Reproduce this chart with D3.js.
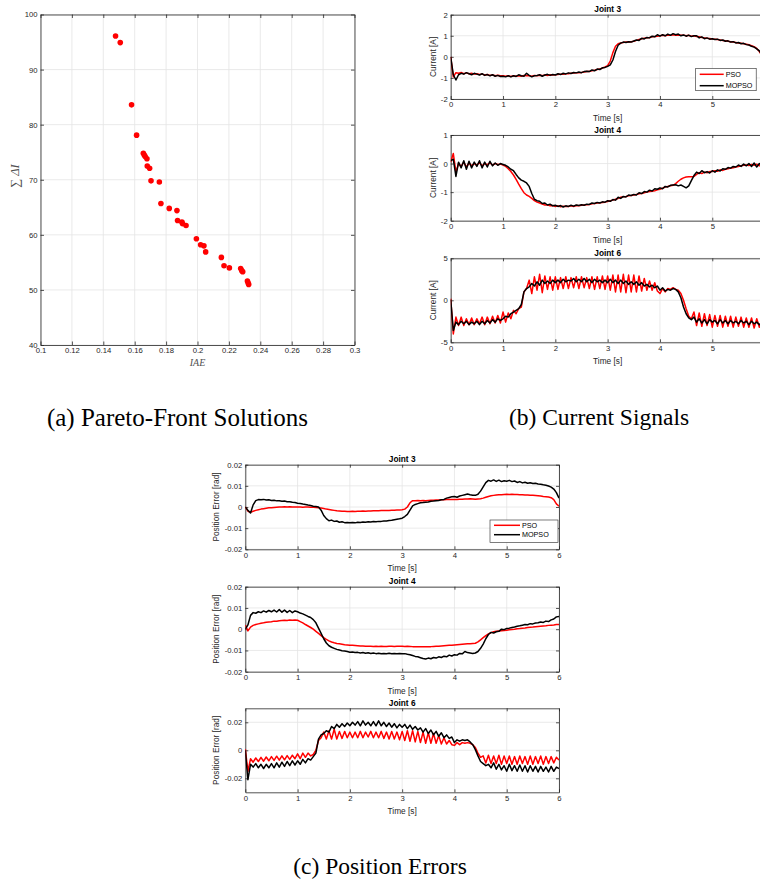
<!DOCTYPE html>
<html>
<head>
<meta charset="utf-8">
<script src="https://cdn.jsdelivr.net/npm/d3@7"></script>
<style>
body { margin: 0; background: #fff; }
svg { display: block; }
</style>
</head>
<body>
<div id="fig"></div>
<script>
var width = 760
var height = 879

// (a) Pareto front
var paretoIAE = [0.1478, 0.1508, 0.1580, 0.1612, 0.1655, 0.1661, 0.1667, 0.1678, 0.1680, 0.1695,
    0.1704, 0.1757, 0.1767, 0.1820, 0.1869, 0.1873, 0.1901, 0.1905, 0.1927, 0.1993,
    0.2020, 0.2041, 0.2052, 0.2152, 0.2169, 0.2203, 0.2275, 0.2282, 0.2288, 0.2318, 0.2322, 0.2326];
var paretoDI = [96.1, 94.9, 83.6, 78.1, 74.8, 74.5, 74.2, 73.8, 72.5, 72.1,
    69.8, 69.6, 65.7, 64.8, 64.4, 62.6, 62.3, 62.0, 61.7, 59.3,
    58.2, 58.0, 56.9, 55.9, 54.4, 54.0, 53.9, 53.5, 53.3, 51.6, 51.3, 51.0];
var paretoXTicks = [0.1, 0.12, 0.14, 0.16, 0.18, 0.2, 0.22, 0.24, 0.26, 0.28, 0.3];
var paretoYTicks = [40, 50, 60, 70, 80, 90, 100];

var seriesNames = ['PSO', 'MOPSO'];
var seriesColors = ['#ff0000', '#000000'];
var timeTicks = [0, 1, 2, 3, 4, 5, 6];

// (b) current signals, sampled every 0.05 s
var curJ3PSO = [0, -0.95, -0.75, -0.78, -0.74, -0.8, -0.76, -0.8, -0.78, -0.82,
    -0.8, -0.84, -0.82, -0.86, -0.84, -0.88, -0.86, -0.9, -0.87, -0.9,
    -0.9, -0.92, -0.9, -0.93, -0.9, -0.92, -0.9, -0.92, -0.88, -0.9,
    -0.9, -0.92, -0.88, -0.9, -0.87, -0.89, -0.86, -0.88, -0.85, -0.86,
    -0.85, -0.84, -0.82, -0.83, -0.8, -0.8, -0.78, -0.77, -0.76, -0.75,
    -0.74, -0.72, -0.7, -0.69, -0.66, -0.64, -0.6, -0.58, -0.53, -0.48,
    -0.42, -0.2, 0.2, 0.5, 0.62, 0.66, 0.68, 0.7, 0.7, 0.72,
    0.74, 0.78, 0.82, 0.86, 0.88, 0.9, 0.92, 0.95, 0.96, 0.98,
    1.0, 1.02, 1.0, 1.04, 1.02, 1.05, 1.03, 1.04, 1.02, 1.03,
    1.0, 1.02, 0.98, 1.0, 0.96, 0.95, 0.92, 0.9, 0.88, 0.87,
    0.85, 0.84, 0.82, 0.8, 0.78, 0.76, 0.74, 0.72, 0.7, 0.68,
    0.66, 0.64, 0.62, 0.6, 0.57, 0.53, 0.48, 0.4, 0.25, 0.05,
    -0.5];
var curJ3MOPSO = [0, -0.85, -1.1, -0.85, -0.78, -0.82, -0.75, -0.8, -0.85, -0.78,
    -0.82, -0.86, -0.8, -0.88, -0.84, -0.9, -0.85, -0.92, -0.88, -0.93,
    -0.92, -0.95, -0.9, -0.95, -0.9, -0.93, -0.85, -0.9, -0.92, -0.78,
    -0.88, -0.95, -0.9, -0.88, -0.85, -0.92, -0.86, -0.83, -0.88, -0.84,
    -0.86, -0.8, -0.84, -0.78, -0.81, -0.76, -0.79, -0.74, -0.76, -0.72,
    -0.75, -0.7, -0.68, -0.7, -0.62, -0.66, -0.58, -0.6, -0.52, -0.5,
    -0.45, -0.38, -0.15, 0.25, 0.55, 0.65, 0.7, 0.68, 0.72, 0.7,
    0.75, 0.8, 0.78, 0.88, 0.85, 0.92, 0.9, 0.98, 0.95, 1.05,
    0.98, 1.05, 1.0, 1.08, 1.02, 1.1, 1.05, 1.08, 1.0, 1.04,
    0.98, 1.03, 0.96, 1.0, 1.0, 0.9, 0.95, 0.86, 0.9, 0.84,
    0.86, 0.82, 0.84, 0.78, 0.8, 0.74, 0.76, 0.7, 0.72, 0.66,
    0.68, 0.62, 0.64, 0.58, 0.56, 0.5, 0.46, 0.38, 0.28, 0.1,
    -0.2];
var curJ4PSO = [0.05, 0.35, -0.3, 0.0, -0.1, 0.05, -0.12, 0.02, -0.08, 0.0,
    -0.05, 0.03, -0.08, 0.0, -0.04, 0.02, -0.05, 0.0, -0.03, -0.02,
    -0.05, -0.1, -0.18, -0.28, -0.4, -0.55, -0.72, -0.88, -1.02, -1.1,
    -1.15, -1.22, -1.3, -1.35, -1.38, -1.42, -1.45, -1.44, -1.48, -1.47,
    -1.5, -1.48, -1.51, -1.49, -1.5, -1.5, -1.48, -1.5, -1.47, -1.48,
    -1.46, -1.45, -1.44, -1.43, -1.41, -1.4, -1.38, -1.37, -1.36, -1.35,
    -1.33, -1.3, -1.28, -1.25, -1.22, -1.18, -1.16, -1.15, -1.13, -1.12,
    -1.1, -1.08, -1.06, -1.05, -1.02, -1.0, -0.98, -0.97, -0.95, -0.92,
    -0.9, -0.86, -0.82, -0.8, -0.78, -0.76, -0.7, -0.62, -0.55, -0.5,
    -0.47, -0.46, -0.46, -0.45, -0.38, -0.32, -0.35, -0.3, -0.32, -0.28,
    -0.28, -0.25, -0.27, -0.22, -0.24, -0.2, -0.18, -0.16, -0.15, -0.12,
    -0.1, -0.08, -0.06, -0.05, -0.07, -0.03, -0.06, -0.02, -0.08, -0.05,
    -0.1];
var curJ4MOPSO = [0.1, 0.15, -0.45, 0.05, -0.15, 0.1, -0.2, 0.08, -0.15, 0.05,
    -0.1, 0.1, -0.15, 0.05, -0.12, 0.08, -0.08, 0.02, -0.06, 0.0,
    -0.03, -0.06, -0.12, -0.2, -0.25, -0.38, -0.5, -0.58, -0.62, -0.68,
    -0.8, -1.05, -1.25, -1.3, -1.32, -1.4, -1.38, -1.45, -1.42, -1.48,
    -1.46, -1.5, -1.47, -1.52, -1.48, -1.5, -1.46, -1.49, -1.45, -1.47,
    -1.44, -1.46, -1.42, -1.43, -1.38, -1.4, -1.36, -1.38, -1.34, -1.35,
    -1.3, -1.32, -1.26, -1.28, -1.18, -1.22, -1.15, -1.17, -1.1, -1.12,
    -1.08, -1.1, -1.02, -1.05, -0.98, -1.0, -0.93, -0.96, -0.88, -0.9,
    -0.85, -0.88, -0.8, -0.82, -0.76, -0.75, -0.74, -0.78, -0.75, -0.8,
    -0.85, -0.78, -0.6, -0.42, -0.3, -0.35, -0.25, -0.32, -0.28, -0.33,
    -0.25, -0.3, -0.22, -0.26, -0.18, -0.2, -0.14, -0.16, -0.1, -0.12,
    -0.05, -0.1, -0.02, -0.08, 0.0, -0.1, 0.02, -0.12, 0.0, -0.08,
    -0.1];
var curJ6PSO = [0.2, -4.0, -2.0, -3.0, -2.0, -3.0, -2.2, -2.9, -2.1, -2.9,
    -2.2, -2.8, -2.0, -2.9, -2.0, -2.8, -1.9, -2.7, -1.8, -2.7,
    -1.4, -2.6, -1.5, -2.2, -1.2, -1.6, -1.0, -0.8, 1.0, 1.4,
    2.4, 0.8, 2.8, 1.2, 3.1, 0.9, 2.9, 1.3, 2.8, 1.2,
    2.8, 1.3, 2.7, 1.4, 2.8, 1.4, 2.7, 1.5, 2.8, 1.4,
    2.8, 1.5, 2.7, 1.4, 2.8, 1.3, 2.8, 1.4, 2.9, 1.3,
    2.9, 1.2, 3.0, 1.0, 3.0, 1.0, 3.1, 0.9, 3.0, 1.0,
    3.0, 1.0, 2.9, 1.1, 2.6, 1.2, 2.3, 1.2, 2.1, 1.1,
    0.8, 1.4, 1.0, 1.4, 1.3, 1.5, 1.3, 1.2, 0.8, 0.0,
    -1.0, -1.9, -2.2, -1.4, -3.0, -1.5, -3.1, -1.6, -3.0, -1.7,
    -3.2, -1.8, -3.1, -1.8, -3.2, -1.9, -3.1, -1.9, -3.2, -2.0,
    -3.1, -2.0, -3.2, -2.1, -3.2, -2.1, -3.3, -2.2, -3.2, -2.3,
    -2.8];
var curJ6MOPSO = [0.1, -3.6, -2.6, -2.9, -2.5, -2.8, -2.5, -2.9, -2.6, -2.8,
    -2.5, -2.9, -2.5, -2.8, -2.4, -2.7, -2.3, -2.6, -2.2, -2.4,
    -2.2, -1.9, -2.0, -1.6, -1.4, -1.2, -1.0, -0.5, 1.0, 1.4,
    1.6, 2.0, 1.7, 2.2, 1.8, 2.4, 2.0, 2.3, 2.0, 2.4,
    2.1, 2.4, 2.1, 2.5, 2.2, 2.4, 2.3, 2.6, 2.2, 2.5,
    2.2, 2.6, 2.2, 2.5, 2.1, 2.5, 2.2, 2.4, 2.1, 2.4,
    2.1, 2.5, 2.1, 2.4, 2.0, 2.4, 2.0, 2.3, 1.9, 2.2,
    1.9, 2.2, 1.8, 2.1, 1.7, 1.9, 1.6, 1.8, 1.5, 1.7,
    1.2, 1.5, 1.1, 1.3, 1.2, 1.4, 1.3, 1.0, 0.3, -0.8,
    -1.6, -2.1, -2.3, -2.0, -2.6, -2.2, -2.7, -2.3, -2.8, -2.3,
    -2.6, -2.4, -2.8, -2.3, -2.7, -2.4, -2.8, -2.4, -2.7, -2.5,
    -2.8, -2.4, -2.7, -2.5, -2.9, -2.5, -2.8, -2.6, -2.9, -2.7,
    -2.8];

// (c) position errors, sampled every 0.05 s
var errJ3PSO = [0.0, -0.002, -0.0025, -0.002, -0.0016, -0.0013, -0.001, -0.0008, -0.0006, -0.0004,
    -0.0003, -0.0002, -0.0001, 0.0, 0.0, 0.0001, 0.0, 0.0001, 0.0, 0.0,
    0.0, 0.0, -0.0001, 0.0, 0.0, -0.0001, -0.0001, -0.0002, -0.0003, -0.0005,
    -0.0007, -0.001, -0.0012, -0.0014, -0.0016, -0.0018, -0.0019, -0.002, -0.002, -0.0021,
    -0.0021, -0.002, -0.0021, -0.002, -0.002, -0.0019, -0.002, -0.0019, -0.0019, -0.0018,
    -0.0018, -0.0018, -0.0017, -0.0017, -0.0016, -0.0016, -0.0015, -0.0015, -0.0014, -0.0014,
    -0.0013, -0.001, 0.0, 0.002, 0.003, 0.003, 0.0031, 0.003, 0.0031, 0.003,
    0.0031, 0.0032, 0.0032, 0.0033, 0.0033, 0.0034, 0.0034, 0.0035, 0.0035, 0.0035,
    0.0036, 0.0036, 0.0037, 0.0037, 0.0038, 0.0038, 0.0039, 0.0038, 0.0037, 0.0038,
    0.0039, 0.0042, 0.0046, 0.005, 0.0053, 0.0055, 0.0057, 0.0058, 0.0058, 0.0059,
    0.006, 0.0059, 0.006, 0.0059, 0.0059, 0.0058, 0.0058, 0.0057, 0.0057, 0.0056,
    0.0055, 0.0054, 0.0053, 0.0052, 0.005, 0.0049, 0.0047, 0.0044, 0.0035, 0.0015,
    0.0004];
var errJ3MOPSO = [0.0, -0.0015, -0.0028, 0.001, 0.003, 0.0035, 0.0034, 0.0036, 0.0033, 0.0034,
    0.0031, 0.0032, 0.0029, 0.003, 0.0027, 0.0028, 0.0025, 0.0025, 0.0022, 0.0021,
    0.0018, 0.0017, 0.0014, 0.0012, 0.0009, 0.0007, 0.0004, 0.0002, 0.0, -0.0015,
    -0.004, -0.0055, -0.0065, -0.0062, -0.0068, -0.0066, -0.0072, -0.007, -0.0074, -0.0073,
    -0.0075, -0.0073, -0.0075, -0.0072, -0.0073, -0.0071, -0.0072, -0.007, -0.0071, -0.0069,
    -0.007, -0.0068, -0.0068, -0.0066, -0.0066, -0.0064, -0.0063, -0.006, -0.0058, -0.0056,
    -0.0053, -0.0045, -0.0035, -0.0015, 0.0005, 0.0012, 0.0016, 0.002, 0.0021, 0.0023,
    0.0024, 0.0027, 0.0028, 0.003, 0.0031, 0.0034, 0.0036, 0.0042, 0.0045, 0.0048,
    0.005, 0.0046, 0.0052, 0.0055, 0.0058, 0.0061, 0.0058, 0.0056, 0.0055, 0.006,
    0.0075, 0.0095, 0.0115, 0.0126, 0.0122, 0.0128, 0.0121, 0.0127, 0.012, 0.0124,
    0.0122, 0.0126, 0.012, 0.0123, 0.0116, 0.012, 0.0114, 0.0117, 0.0112, 0.0115,
    0.0111, 0.0112, 0.0109, 0.0108, 0.0105, 0.0103, 0.0099, 0.0094, 0.0085, 0.0068,
    0.0042];
var errJ4PSO = [0.002, -0.0008, 0.001, 0.0018, 0.0022, 0.0025, 0.0028, 0.003, 0.0033, 0.0034,
    0.0035, 0.0038, 0.0037, 0.004, 0.0041, 0.0042, 0.0041, 0.0043, 0.0042, 0.0043,
    0.0042, 0.0036, 0.003, 0.0022, 0.0015, 0.0008, 0.0, -0.001, -0.002, -0.003,
    -0.004, -0.0048, -0.0055, -0.006, -0.0064, -0.0067, -0.0069, -0.0071, -0.0073, -0.0074,
    -0.0075, -0.0076, -0.0077, -0.0078, -0.0079, -0.0079, -0.008, -0.008, -0.008, -0.0081,
    -0.008, -0.0081, -0.008, -0.0081, -0.0081, -0.008, -0.008, -0.0081, -0.008, -0.008,
    -0.008, -0.0081, -0.008, -0.0081, -0.0082, -0.0082, -0.0083, -0.0082, -0.0083, -0.0083,
    -0.0082, -0.0082, -0.0081, -0.008, -0.008, -0.0079, -0.0078, -0.0077, -0.0076, -0.0075,
    -0.0074, -0.0073, -0.0072, -0.0071, -0.007, -0.0069, -0.0068, -0.0067, -0.0066, -0.006,
    -0.005, -0.004, -0.003, -0.0022, -0.0016, -0.0012, -0.001, -0.0008, -0.0007, -0.0006,
    -0.0005, -0.0003, -0.0001, 0.0, 0.0002, 0.0003, 0.0005, 0.0006, 0.0008, 0.0009,
    0.001, 0.0012, 0.0013, 0.0014, 0.0015, 0.0016, 0.0018, 0.0019, 0.002, 0.0022,
    0.0022];
var errJ4MOPSO = [0.0, 0.002, 0.0065, 0.0078, 0.0075, 0.0082, 0.0078, 0.0086, 0.008, 0.0088,
    0.0082, 0.009, 0.0081, 0.0092, 0.008, 0.009, 0.0079, 0.0088, 0.0078, 0.0086,
    0.0082, 0.0076, 0.0072, 0.0066, 0.006, 0.0055, 0.0045, 0.003, 0.0005, -0.002,
    -0.0045, -0.0065, -0.0078, -0.0085, -0.009, -0.0095, -0.0098, -0.0101, -0.0103, -0.0105,
    -0.0108, -0.0107, -0.011, -0.0109, -0.0112, -0.011, -0.0113, -0.0111, -0.0114, -0.0112,
    -0.0115, -0.0113, -0.0116, -0.0114, -0.0115, -0.0113, -0.0116, -0.0114, -0.0115, -0.0114,
    -0.0116, -0.0115, -0.0118, -0.012, -0.0124, -0.0128, -0.013, -0.0134, -0.0138, -0.014,
    -0.0136, -0.0139, -0.0133, -0.0136, -0.013, -0.0133, -0.0127, -0.013, -0.0122, -0.0126,
    -0.012, -0.0122, -0.0114, -0.0116, -0.0105, -0.011, -0.0112, -0.0114, -0.0112, -0.0105,
    -0.009, -0.007, -0.0045, -0.0025, -0.0015, -0.0018, -0.0012, -0.001, 0.0, -0.0002,
    0.0003, 0.0005, 0.0008, 0.001, 0.0014, 0.0016, 0.0019, 0.0022, 0.0021, 0.0026,
    0.0025, 0.0029, 0.003, 0.0034, 0.0032, 0.0038, 0.0036, 0.0044, 0.0048, 0.0058,
    0.006];
var errJ6PSO = [0.001, -0.015, -0.006, -0.0085, -0.0055, -0.008, -0.005, -0.0078, -0.0048, -0.0075,
    -0.0045, -0.0072, -0.0042, -0.007, -0.004, -0.0068, -0.0038, -0.0065, -0.0035, -0.006,
    -0.0025, -0.006, -0.002, -0.005, -0.002, -0.004, -0.003, 0.0, 0.007, 0.009,
    0.013, 0.008, 0.014, 0.008, 0.015, 0.008, 0.0135, 0.0085, 0.0135, 0.009,
    0.013, 0.009, 0.013, 0.009, 0.0135, 0.009, 0.013, 0.0095, 0.0135, 0.009,
    0.013, 0.009, 0.0135, 0.0085, 0.013, 0.008, 0.0135, 0.008, 0.013, 0.0075,
    0.0135, 0.007, 0.014, 0.0065, 0.014, 0.006, 0.0135, 0.0055, 0.013, 0.005,
    0.0125, 0.005, 0.012, 0.005, 0.0105, 0.0045, 0.009, 0.0045, 0.007, 0.004,
    0.0035, 0.0055, 0.004, 0.0055, 0.005, 0.0055, 0.005, 0.004, 0.002, -0.002,
    -0.005, -0.004, -0.009, -0.0035, -0.0095, -0.004, -0.0095, -0.0035, -0.01, -0.004,
    -0.0095, -0.004, -0.01, -0.0045, -0.01, -0.004, -0.0095, -0.0045, -0.01, -0.004,
    -0.01, -0.0045, -0.0095, -0.004, -0.01, -0.0045, -0.0095, -0.0045, -0.009, -0.005,
    -0.007];
var errJ6MOPSO = [0.0, -0.021, -0.01, -0.012, -0.0095, -0.0125, -0.01, -0.013, -0.01, -0.0125,
    -0.0095, -0.0125, -0.009, -0.012, -0.0085, -0.0115, -0.008, -0.011, -0.0075, -0.0105,
    -0.0075, -0.01, -0.0065, -0.009, -0.006, -0.007, -0.0045, -0.002, 0.008, 0.011,
    0.012, 0.014, 0.013, 0.017, 0.0155, 0.0185, 0.0165, 0.019, 0.017, 0.0195,
    0.0175, 0.02, 0.018, 0.0205, 0.0175, 0.021, 0.018, 0.02, 0.0175, 0.0205,
    0.0175, 0.021, 0.0175, 0.02, 0.017, 0.0195, 0.0165, 0.019, 0.016, 0.0185,
    0.0165, 0.0185, 0.0155, 0.018, 0.015, 0.017, 0.0145, 0.016, 0.013, 0.0155,
    0.012, 0.0145, 0.011, 0.0135, 0.01, 0.0125, 0.009, 0.011, 0.0085, 0.0095,
    0.0055, 0.0075, 0.0065, 0.0075, 0.007, 0.0075, 0.006, 0.004, 0.0005, -0.004,
    -0.008, -0.0095, -0.011, -0.01, -0.0125, -0.009, -0.0135, -0.01, -0.014, -0.011,
    -0.015, -0.01, -0.0145, -0.011, -0.015, -0.0105, -0.015, -0.011, -0.0155, -0.011,
    -0.015, -0.0115, -0.0155, -0.0115, -0.015, -0.012, -0.0155, -0.0115, -0.015, -0.012,
    -0.013];

var svg = d3.select('#fig')
    .append('svg')
    .attr('width', width)
    .attr('height', height);

var axisColor = '#262626';
var gridColor = '#e4e4e4';
var sansFont = '"Liberation Sans", Arial, Helvetica, sans-serif';
var serifFont = '"Liberation Serif", "Times New Roman", serif';
var clipCount = 0;

function fmt(d) { return String(d); }

// MATLAB style axes: boxed, grid, inward ticks on all sides
function makeAxes(p) {
    var x = d3.scaleLinear().domain(p.xDomain).range([p.left, p.right]);
    var y = d3.scaleLinear().domain(p.yDomain).range([p.bottom, p.top]);
    var g = svg.append('g');

    g.selectAll('.gx').data(p.xTicks).enter().append('line')
        .attr('x1', function(d) { return x(d); })
        .attr('x2', function(d) { return x(d); })
        .attr('y1', p.top).attr('y2', p.bottom)
        .attr('stroke', gridColor).attr('stroke-width', 0.8);
    g.selectAll('.gy').data(p.yTicks).enter().append('line')
        .attr('y1', function(d) { return y(d); })
        .attr('y2', function(d) { return y(d); })
        .attr('x1', p.left).attr('x2', p.right)
        .attr('stroke', gridColor).attr('stroke-width', 0.8);

    var ts = p.tick;
    var axes = [
        [d3.axisBottom(x).tickValues(p.xTicks).tickFormat(fmt), 'translate(0,' + p.bottom + ')'],
        [d3.axisLeft(y).tickValues(p.yTicks).tickFormat(fmt), 'translate(' + p.left + ',0)'],
        [d3.axisTop(x).tickValues(p.xTicks).tickFormat(''), 'translate(0,' + p.top + ')'],
        [d3.axisRight(y).tickValues(p.yTicks).tickFormat(''), 'translate(' + p.right + ',0)']
    ];
    axes.forEach(function(a) {
        var ag = g.append('g').attr('transform', a[1])
            .call(a[0].tickSizeInner(-ts).tickSizeOuter(0).tickPadding(3));
        ag.select('.domain').attr('stroke', axisColor).attr('stroke-width', 0.8);
        ag.selectAll('.tick line').attr('stroke', axisColor).attr('stroke-width', 0.8);
        ag.selectAll('.tick text').attr('fill', axisColor)
            .style('font-family', sansFont).style('font-size', p.tickFont + 'px');
    });
    // labels that would fall past the page edge are not shown (figure is cropped there)
    g.selectAll('.tick text').filter(function(d) { return x(d) > width - 3 && this.textContent !== ''; })
        .filter(function() { return d3.select(this.parentNode).attr('transform').indexOf(',0)') > 0; })
        .remove();

    var id = 'clip' + (clipCount++);
    svg.append('clipPath').attr('id', id).append('rect')
        .attr('x', p.left).attr('y', p.top)
        .attr('width', p.right - p.left).attr('height', p.bottom - p.top);

    var plot = svg.append('g').attr('clip-path', 'url(#' + id + ')');
    return { x: x, y: y, plot: plot };
}

// ---------- (a) Pareto-front solutions ----------
var pa = makeAxes({
    left: 40.5, right: 354.5, top: 14.5, bottom: 345,
    xDomain: [0.1, 0.3], yDomain: [40, 100],
    xTicks: paretoXTicks, yTicks: paretoYTicks, tick: 3.5, tickFont: 7.7
});
pa.plot.selectAll('.pt')
    .data(paretoIAE)
    .enter().append('circle')
    .attr('cx', function(d) { return pa.x(d); })
    .attr('cy', function(d, i) { return pa.y(paretoDI[i]); })
    .attr('r', 2.8)
    .attr('fill', '#ff0000');

svg.append('text')
    .attr('transform', 'translate(19,176) rotate(-90)')
    .attr('text-anchor', 'middle')
    .style('font-family', serifFont).style('font-style', 'italic')
    .style('font-size', '12.5px').attr('fill', '#505050')
    .text('\u2211 \u0394I');
svg.append('text')
    .attr('x', 197.5).attr('y', 366)
    .attr('text-anchor', 'middle')
    .style('font-family', serifFont).style('font-style', 'italic')
    .style('font-size', '10px').attr('fill', '#505050')
    .text('IAE');

// ---------- time-series panels ----------
function timePanel(p) {
    var ax = makeAxes({
        left: p.left, right: p.right, top: p.top, bottom: p.bottom,
        xDomain: [0, 6], yDomain: p.yDomain,
        xTicks: timeTicks, yTicks: p.yTicks, tick: 3, tickFont: 7.7
    });
    p.series.forEach(function(s, k) {
        var n = s.length;
        var line = d3.line()
            .x(function(d, i) { return ax.x(i * 6 / (n - 1)); })
            .y(function(d) { return ax.y(d); });
        ax.plot.append('path')
            .datum(s)
            .attr('d', line)
            .attr('fill', 'none')
            .attr('stroke', seriesColors[k])
            .attr('stroke-width', 1.5)
            .attr('stroke-linejoin', 'round');
    });
    var cx = (p.left + p.right) / 2;
    svg.append('text')
        .attr('x', cx).attr('y', p.top - 2.5)
        .attr('text-anchor', 'middle')
        .style('font-family', sansFont).style('font-weight', 'bold')
        .style('font-size', '8.3px').attr('fill', '#000')
        .text(p.title);
    svg.append('text')
        .attr('x', cx).attr('y', p.bottom + 22)
        .attr('text-anchor', 'middle')
        .style('font-family', sansFont).style('font-size', '8.3px')
        .attr('fill', axisColor)
        .text('Time [s]');
    svg.append('text')
        .attr('transform', 'translate(' + p.yLabelX + ',' + ((p.top + p.bottom) / 2) + ') rotate(-90)')
        .attr('text-anchor', 'middle')
        .style('font-family', sansFont).style('font-size', '8.3px')
        .attr('fill', axisColor)
        .text(p.yLabel);

    if (p.legend) {
        var L = p.legend;
        var lg = svg.append('g');
        lg.append('rect')
            .attr('x', L.x).attr('y', L.y).attr('width', L.w).attr('height', L.h)
            .attr('fill', '#fff').attr('stroke', axisColor).attr('stroke-width', 0.6);
        seriesNames.forEach(function(name, k) {
            var ry = L.y + L.row0 + k * L.dy;
            lg.append('line')
                .attr('x1', L.x + 4).attr('x2', L.x + L.lineLen)
                .attr('y1', ry).attr('y2', ry)
                .attr('stroke', seriesColors[k]).attr('stroke-width', 1.5);
            lg.append('text')
                .attr('x', L.x + L.lineLen + 2).attr('y', ry).attr('dy', '0.35em')
                .style('font-family', sansFont).style('font-size', '7.2px')
                .attr('fill', '#000')
                .text(name);
        });
    }
}

var bLeft = 450.7, bRight = 764.6;
timePanel({ left: bLeft, right: bRight, top: 14.7, bottom: 99, title: 'Joint 3',
    yDomain: [-2, 2], yTicks: [-2, -1, 0, 1, 2], yLabel: 'Current [A]', yLabelX: 436,
    series: [curJ3PSO, curJ3MOPSO],
    legend: { x: 695.7, y: 68.3, w: 60.5, h: 22.4, row0: 6, dy: 11.4, lineLen: 28 } });
timePanel({ left: bLeft, right: bRight, top: 135, bottom: 220.7, title: 'Joint 4',
    yDomain: [-2, 1], yTicks: [-2, -1, 0, 1], yLabel: 'Current [A]', yLabelX: 436,
    series: [curJ4PSO, curJ4MOPSO] });
timePanel({ left: bLeft, right: bRight, top: 258.3, bottom: 342.3, title: 'Joint 6',
    yDomain: [-5, 5], yTicks: [-5, 0, 5], yLabel: 'Current [A]', yLabelX: 436,
    series: [curJ6PSO, curJ6MOPSO] });

var cLeft = 245.3, cRight = 559;
timePanel({ left: cLeft, right: cRight, top: 464.7, bottom: 549.3, title: 'Joint 3',
    yDomain: [-0.02, 0.02], yTicks: [-0.02, -0.01, 0, 0.01, 0.02],
    yLabel: 'Position Error [rad]', yLabelX: 219,
    series: [errJ3PSO, errJ3MOPSO],
    legend: { x: 490, y: 520, w: 68, h: 22.3, row0: 5.3, dy: 9.4, lineLen: 30 } });
timePanel({ left: cLeft, right: cRight, top: 586.7, bottom: 671.7, title: 'Joint 4',
    yDomain: [-0.02, 0.02], yTicks: [-0.02, -0.01, 0, 0.01, 0.02],
    yLabel: 'Position Error [rad]', yLabelX: 219,
    series: [errJ4PSO, errJ4MOPSO] });
timePanel({ left: cLeft, right: cRight, top: 708.3, bottom: 792.3, title: 'Joint 6',
    yDomain: [-0.03, 0.03], yTicks: [-0.02, 0, 0.02],
    yLabel: 'Position Error [rad]', yLabelX: 219,
    series: [errJ6PSO, errJ6MOPSO] });

// captions
var captions = [
    { text: '(a) Pareto-Front Solutions', x: 177.5, y: 426, size: 25 },
    { text: '(b) Current Signals', x: 599, y: 425, size: 23.5 },
    { text: '(c) Position Errors', x: 380, y: 874, size: 23.5 }
];
svg.selectAll('.cap')
    .data(captions)
    .enter().append('text')
    .attr('x', function(d) { return d.x; })
    .attr('y', function(d) { return d.y; })
    .attr('text-anchor', 'middle')
    .style('font-family', serifFont)
    .style('font-size', function(d) { return d.size + 'px'; })
    .attr('fill', '#000')
    .text(function(d) { return d.text; });
</script>
</body>
</html>
